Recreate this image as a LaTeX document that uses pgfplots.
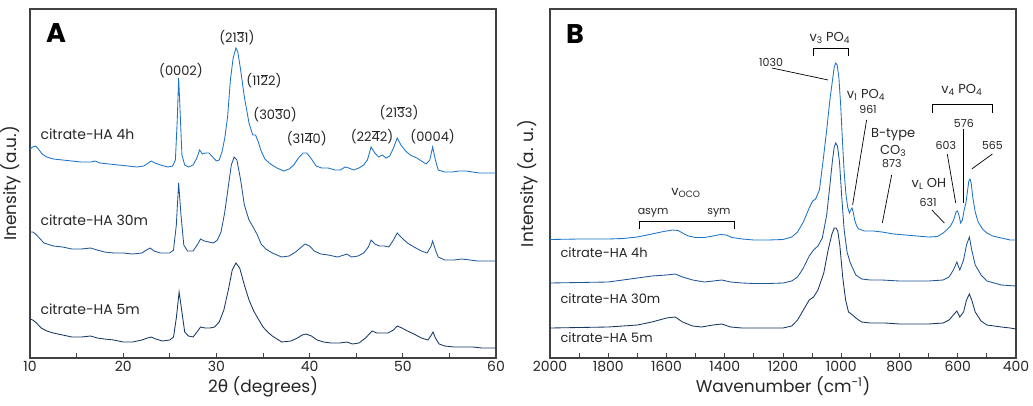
\documentclass[border=0pt]{standalone}
\usepackage{fontspec}
\setmainfont{Poppins}
\newfontfamily\dejavu{DejaVu Sans}
\usepackage{pgfplots}
\pgfplotsset{compat=1.18}
\definecolor{c4h}{RGB}{28,115,200}
\definecolor{c30}{RGB}{30,85,150}
\definecolor{c5}{RGB}{22,55,100}
\definecolor{axc}{RGB}{65,65,65}
\newcommand\ob[1]{\ensuremath{\overline{\mbox{#1}}}}
\newcommand\fs[1]{\fontsize{#1}{#1}\selectfont}
\pgfplotsset{
  myaxis/.style={
    scale only axis, width=466pt, height=349pt, anchor=south west,
    y dir=reverse, ymin=9, ymax=358, ytick=\empty,
    axis line style={axc, line width=1.1pt},
    tick style={axc, line width=1pt},
    tick align=inside, xtick pos=bottom,
    major tick length=5pt, minor tick length=5pt,
    /pgf/number format/assume math mode=true,
    /pgf/number format/1000 sep={},
    tick label style={font=\fs{14}, text=black!85},
    xlabel style={font=\fs{17}, text=black!85, yshift=2pt},
    ylabel style={font=\fs{17}, text=black!85, at={(axis description cs:-0.012,0.5)}, anchor=south},
    clip=false,
  },
}
\begin{document}
\begin{tikzpicture}
\path[use as bounding box] (0,0) rectangle (1033pt,405pt);
% ---------------- Panel A ----------------
\begin{axis}[myaxis, at={(30pt,47pt)},
  xmin=10, xmax=60, xtick={10,20,...,60}, minor xtick={15,25,...,55},
  xlabel={2{\dejavu θ} (degrees)}, ylabel={Inensity (a.u.)}]
\addplot[c4h, line width=0.85pt] coordinates {
(10.0,149)(10.3,147)(10.6,146)(10.9,149)(11.3,154)(11.8,157)(12.5,159)(13.5,160)(14.5,161)(15.5,162)(16.5,162)(17.0,161)(17.5,163)(18.5,164)(19.5,165)(20.5,166)(21.5,167)(22.2,166)(22.7,163)(23.0,161)(23.4,163)(24.0,165)(24.8,167)(25.3,166)(25.6,160)(25.8,120)(25.95,78)(26.1,110)(26.3,155)(26.6,165)(27.0,167)(27.5,165)(27.9,158)(28.2,150)(28.5,154)(28.8,153)(29.2,153)(29.6,157)(30.0,161)(30.3,160)(30.6,152)(30.9,138)(31.2,117)(31.5,80)(31.8,58)(32.1,48)(32.3,52)(32.6,70)(33.0,97)(33.5,123)(33.9,135)(34.2,135)(34.5,142)(34.8,151)(35.2,159)(35.8,164)(36.5,168)(37.2,171)(37.8,169)(38.3,165)(38.8,158)(39.3,153)(39.7,153)(40.2,159)(40.7,166)(41.3,168)(42.0,168)(42.7,170)(43.3,170)(43.8,167)(44.2,168)(44.7,170)(45.3,168)(45.8,165)(46.2,160)(46.6,147)(47.0,153)(47.4,157)(47.8,155)(48.2,158)(48.6,156)(49.0,148)(49.4,138)(49.8,145)(50.3,151)(50.8,155)(51.5,158)(52.0,161)(52.5,164)(52.9,160)(53.2,147)(53.5,160)(53.8,170)(54.5,172)(55.3,172)(56.0,171)(56.8,171)(57.5,172)(58.2,173)(59.0,173)(60.0,173)};
\addplot[c30, line width=0.85pt] coordinates {
(10.0,232)(10.3,232)(10.6,234)(11.0,238)(11.5,243)(12.5,246)(13.5,247)(14.5,249)(15.5,249)(16.5,248)(17.2,250)(18.0,252)(19.0,253)(20.0,253)(21.0,254)(22.0,253)(22.5,250)(22.9,248)(23.3,251)(24.0,253)(25.0,253)(25.4,250)(25.7,225)(25.95,183)(26.2,215)(26.5,245)(26.9,251)(27.5,251)(28.0,244)(28.3,239)(28.7,241)(29.2,242)(29.7,243)(30.1,240)(30.5,232)(30.9,212)(31.3,185)(31.6,165)(31.9,157)(32.2,160)(32.6,180)(33.0,205)(33.5,220)(34.0,228)(34.4,235)(34.8,244)(35.3,249)(36.0,253)(37.0,257)(37.8,256)(38.5,252)(39.0,248)(39.5,244)(40.0,246)(40.5,251)(41.2,254)(42.0,255)(43.0,257)(43.7,255)(44.0,254)(44.5,257)(45.2,256)(45.8,253)(46.3,247)(46.6,240)(47.0,244)(47.5,246)(48.0,246)(48.5,247)(49.0,240)(49.4,233)(49.9,238)(50.5,243)(51.2,247)(52.0,251)(52.6,253)(53.0,247)(53.2,241)(53.5,250)(53.8,257)(54.5,260)(55.5,260)(56.3,259)(57.2,260)(58.0,261)(59.0,261)(60.0,261)};
\addplot[c5, line width=0.85pt] coordinates {
(10.0,319)(10.3,320)(10.7,323)(11.2,328)(11.8,331)(12.5,333)(13.5,335)(14.5,337)(15.5,337)(16.5,336)(17.2,338)(18.0,339)(19.0,340)(20.0,342)(21.0,342)(22.0,340)(22.6,338)(23.0,337)(23.5,339)(24.2,341)(25.0,340)(25.4,337)(25.7,318)(26.0,292)(26.3,312)(26.6,332)(27.0,336)(27.5,337)(28.0,331)(28.3,327)(28.8,328)(29.3,328)(29.8,327)(30.3,322)(30.8,310)(31.3,289)(31.7,270)(32.1,263)(32.5,268)(33.0,285)(33.5,300)(34.0,311)(34.5,319)(35.0,327)(35.5,332)(36.0,336)(37.0,342)(38.0,341)(38.7,338)(39.2,335)(39.6,334)(40.2,336)(40.8,340)(41.5,342)(42.3,343)(43.2,343)(44.0,342)(44.6,344)(45.3,343)(46.0,338)(46.4,334)(46.7,331)(47.2,333)(47.8,333)(48.4,333)(49.0,330)(49.4,326)(49.9,328)(50.5,331)(51.2,334)(52.0,338)(52.7,340)(53.0,336)(53.25,332)(53.5,338)(53.9,344)(54.5,346)(55.5,347)(56.5,347)(57.5,347)(58.5,348)(60.0,348)};
\node[font=\fs{27}\bfseries] at (axis cs:12.8,33) {A};
\begin{scope}[every node/.style={font=\fs{13}, text=black!85}]
\node at (axis cs:26.2,71) {(0002)};
\node at (axis cs:32.2,38) {(21\ob{3}1)};
\node at (axis cs:35.1,81) {(11\ob{2}2)};
\node at (axis cs:36.3,115) {(30\ob{3}0)};
\node at (axis cs:39.7,139) {(31\ob{4}0)};
\node at (axis cs:46.7,137) {(22\ob{4}2)};
\node at (axis cs:49.6,113) {(21\ob{3}3)};
\node at (axis cs:53.2,137) {(0004)};
\node[anchor=west, font=\fs{14}] at (axis cs:10.75,134) {citrate-HA 4h};
\node[anchor=west, font=\fs{14}] at (axis cs:10.75,220) {citrate-HA 30m};
\node[anchor=west, font=\fs{14}] at (axis cs:10.75,309) {citrate-HA 5m};
\end{scope}
\end{axis}
% ---------------- Panel B ----------------
\begin{axis}[myaxis, at={(550pt,47pt)},
  x dir=reverse, xmin=400, xmax=2000, xtick={400,600,...,2000}, minor xtick={500,700,...,1900},
  xlabel={Wavenumber (cm\textsuperscript{-1})}, ylabel={Intensity (a. u.)},
  ylabel style={at={(axis description cs:-0.018,0.5)}}]
\addplot[c4h, line width=0.85pt] coordinates {
(2000,239.5)(1900,239)(1800,239)(1750,238.5)(1700,237)(1650,234)(1610,231.5)(1580,230)(1560,230.5)(1545,233)(1525,236)(1500,237.5)(1470,237.5)(1440,236)(1415,234.5)(1395,235)(1375,237.5)(1340,239)(1300,240)(1250,240)(1200,239.5)(1170,237)(1150,232)(1130,222)(1110,208)(1098,201)(1088,199)(1075,190)(1062,160)(1050,130)(1039,100)(1030,80)(1024,67)(1019,63)(1014,65)(1008,78)(1002,105)(996,140)(990,172)(984,194)(978,207)(972,213)(967,210)(963,208)(959,212)(954,220)(947,226)(940,229)(920,231)(890,231)(860,232)(820,234)(780,235)(740,236)(700,237)(670,236.5)(650,233)(638,230)(625,226)(614,220)(606,212)(601,211)(596,215)(590,223)(584,220)(578,210)(572,203)(566,190)(562,181)(558,179)(554,183)(548,198)(540,212)(530,222)(515,229)(500,233)(480,236)(450,238)(420,240)(400,240)};
\addplot[c30, line width=0.85pt] coordinates {
(2000,283)(1900,282.5)(1800,282)(1700,278)(1650,276)(1600,275)(1570,274)(1545,277)(1510,280)(1470,282)(1440,281)(1410,280)(1380,282)(1340,283)(1300,283.5)(1250,283.5)(1200,283)(1170,281)(1150,277)(1130,268)(1110,256)(1095,250)(1080,246)(1065,238)(1050,215)(1040,188)(1030,160)(1024,147)(1019,143)(1013,146)(1006,162)(998,198)(990,230)(980,252)(970,262)(961,268)(950,275)(930,279)(900,280)(860,280)(800,281)(700,281)(650,280)(630,277)(615,270)(603,262)(593,270)(580,260)(570,245)(560,237)(552,250)(540,265)(520,275)(500,281)(450,285)(400,286)};
\addplot[c5, line width=0.85pt] coordinates {
(2000,328)(1800,327)(1700,325)(1650,322)(1600,318)(1570,317)(1545,322)(1510,326)(1480,327)(1440,325)(1410,324)(1380,327)(1340,328)(1300,328)(1200,328)(1170,326)(1150,320)(1130,310)(1110,300)(1095,297)(1080,290)(1060,273)(1045,250)(1032,234)(1024,228)(1018,228)(1012,231)(1005,245)(995,277)(985,300)(975,312)(961,315)(950,318)(930,322)(900,323)(850,323)(800,324)(700,324)(650,323)(630,320)(615,315)(603,311)(593,317)(580,312)(570,300)(560,294)(552,300)(540,312)(520,321)(500,325)(450,327)(420,328)(400,329)};
\node[font=\fs{27}\bfseries] at (axis cs:1914,34) {B};
\begin{scope}[every node/.style={text=black!85}]
\node[font=\fs{13}] at (axis cs:1039,38) {v\textsubscript{3} PO\textsubscript{4}};
\draw[line width=0.8pt] (axis cs:1097,56)--(axis cs:1097,48)--(axis cs:977,48)--(axis cs:977,56);
\node[font=\fs{11}] at (axis cs:1241,62) {1030};
\draw[line width=0.7pt] (axis cs:1238,68)--(axis cs:1045,80);
\node[font=\fs{13}] at (axis cs:915,95) {v\textsubscript{1} PO\textsubscript{4}};
\node[font=\fs{11}] at (axis cs:908,109) {961};
\draw[line width=0.7pt] (axis cs:913,120)--(axis cs:961,205);
\node[font=\fs{13}] at (axis cs:822,135) {B-type};
\node[font=\fs{13}] at (axis cs:822,151) {CO\textsubscript{3}};
\node[font=\fs{11}] at (axis cs:826,164) {873};
\draw[line width=0.7pt] (axis cs:827,175)--(axis cs:859,223);
\node[font=\fs{13}] at (axis cs:699,184) {v\textsubscript{L} OH};
\node[font=\fs{11}] at (axis cs:702,202) {631};
\draw[line width=0.7pt] (axis cs:689,210)--(axis cs:646,223);
\node[font=\fs{13}] at (axis cs:586,90) {v\textsubscript{4} PO\textsubscript{4}};
\draw[line width=0.8pt] (axis cs:688,113)--(axis cs:688,104)--(axis cs:482,104)--(axis cs:482,113);
\node[font=\fs{11}] at (axis cs:579,123) {576};
\draw[line width=0.7pt] (axis cs:580,129)--(axis cs:580,203);
\node[font=\fs{11}] at (axis cs:641,145) {603};
\draw[line width=0.7pt] (axis cs:636,154)--(axis cs:607,203);
\node[font=\fs{11}] at (axis cs:481,145) {565};
\draw[line width=0.7pt] (axis cs:481,154)--(axis cs:552,169);
\node[font=\fs{13}] at (axis cs:1533,193) {v\textsubscript{OCO}};
\node[font=\fs{11}] at (axis cs:1646,213) {asym};
\node[font=\fs{11}] at (axis cs:1420,213) {sym};
\draw[line width=0.8pt] (axis cs:1694,229)--(axis cs:1694,221)--(axis cs:1368,221)--(axis cs:1368,229);
\node[font=\fs{13}, anchor=west] at (axis cs:1976,253) {citrate-HA 4h};
\node[font=\fs{13}, anchor=west] at (axis cs:1976,299) {citrate-HA 30m};
\node[font=\fs{13}, anchor=west] at (axis cs:1976,338) {citrate-HA 5m};
\end{scope}
\end{axis}
\end{tikzpicture}
\end{document}
